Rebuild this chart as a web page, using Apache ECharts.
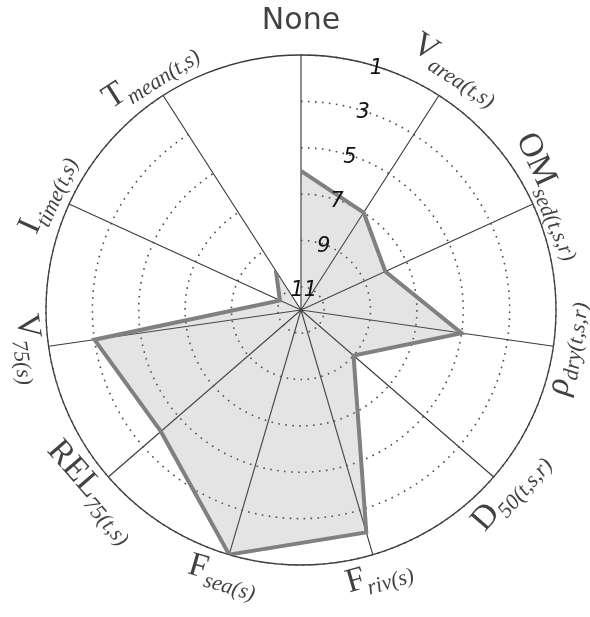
<!DOCTYPE html>
<html>
<head>
<meta charset="utf-8">
<script src="https://cdn.jsdelivr.net/npm/echarts@6/dist/echarts.min.js"></script>
<style>
html,body{margin:0;padding:0;background:#fff;}
#chart{width:590px;height:617px;}
</style>
</head>
<body>
<div id="chart"></div>
<script>
// ---- data ----
const categories = ['None','V_area','OM_sed','rho_dry','D_50','F_riv','F_sea','REL_75','V_75','I_time','T_mean'];
const labelMain = ['None','V','OM','ρ','D','F','F','REL','V','I','T'];
const labelSub = ['', 'area(t,s)', 'sed(t,s,r)', 'dry(t,s,r)', '50(t,s,r)', 'riv(s)', 'sea(s)', '75(t,s)', '75(s)', 'time(t,s)', 'mean(t,s)'];
const ranks = [6, 7, 8, 5, 9, 2, 1, 4, 3, 11, 10];
const rankTicks = [1, 3, 5, 7, 9, 11];
const rankMin = 1, rankMax = 12;

// ---- layout / style ----
const CENTER = [301, 310];
const RADIUS = 255;
// radial position (in rank units, outside the rank-1 ring) of each axis name
const LABEL_POS = [-0.45, -0.3, 0.2, 0.4, 0.0, 0.0, 0.0, 0.0, 0.1, 0.0, 0.0];

const n = categories.length;
function labelRotate(i) {
  const th = i * 360 / n;
  let cw;
  if (th > 90 && th < 270) cw = th - 180;
  else if (th >= 270) cw = th - 360;
  else cw = th;
  return -cw;
}
function richLabel(i) {
  if (!labelSub[i]) return '{n|' + labelMain[i] + '}';
  const mainStyle = labelMain[i] === 'ρ' ? 'g' : 'm';
  return '{' + mainStyle + '|' + labelMain[i] + '}{s|' + labelSub[i] + '}';
}

const polyData = ranks.map((r, i) => [r, categories[i]]);
polyData.push([ranks[0], categories[0]]);

const labelData = categories.map((c, i) => ({
  value: [LABEL_POS[i], c],
  label: { rotate: labelRotate(i), formatter: richLabel(i) }
}));

const chart = echarts.init(document.getElementById('chart'), null, { renderer: 'canvas' });
chart.setOption({
  backgroundColor: '#ffffff',
  animation: false,
  polar: [
    { center: CENTER, radius: RADIUS },
    { center: CENTER, radius: RADIUS }
  ],
  angleAxis: [
    {
      polarIndex: 0,
      type: 'category',
      data: categories,
      boundaryGap: false,
      startAngle: 90,
      clockwise: true,
      axisLine: { show: false },
      axisTick: { show: false },
      axisLabel: { show: false },
      splitLine: { show: true, lineStyle: { color: '#3c3c3c', width: 1.15 } }
    },
    {
      polarIndex: 1,
      type: 'value',
      min: 0, max: 360,
      startAngle: 73.5,
      axisLine: { show: true, lineStyle: { color: '#3a3a3a', width: 1.3 } },
      axisTick: { show: false },
      axisLabel: { show: false },
      splitLine: { show: false }
    }
  ],
  radiusAxis: [
    {
      polarIndex: 0,
      type: 'value',
      min: rankMin, max: rankMax,
      inverse: true,
      axisLine: { show: false },
      axisTick: { show: false, customValues: rankTicks },
      axisLabel: { show: false, customValues: rankTicks },
      splitLine: { show: true, lineStyle: { color: '#4a4a4a', width: 1.6, type: [1.6, 5.4] } },
      z: 1
    },
    {
      polarIndex: 1,
      type: 'value',
      min: rankMin, max: rankMax,
      inverse: true,
      axisLine: { show: false },
      axisTick: { show: false, customValues: rankTicks },
      axisLabel: {
        show: true,
        customValues: rankTicks,
        margin: -10,
        color: '#111',
        fontFamily: 'DejaVu Sans',
        fontStyle: 'italic',
        fontSize: 21
      },
      splitLine: { show: false },
      z: 5
    }
  ],
  series: [
    {
      type: 'line',
      coordinateSystem: 'polar',
      polarIndex: 0,
      data: polyData,
      symbol: 'none',
      lineStyle: { color: '#808080', width: 4, join: 'miter' },
      areaStyle: { color: 'rgba(128,128,128,0.3)', origin: 'end' },
      z: 2
    },
    {
      type: 'scatter',
      coordinateSystem: 'polar',
      polarIndex: 0,
      clip: false,
      symbol: 'circle',
      symbolSize: 0,
      itemStyle: { color: 'rgba(0,0,0,0)' },
      data: labelData,
      label: {
        show: true,
        position: 'inside',
        color: '#111',
        rich: {
          n: { fontFamily: 'DejaVu Sans', fontSize: 30, color: '#111' },
          m: { fontFamily: 'Liberation Serif', fontSize: 34, color: '#111', verticalAlign: 'top' },
          g: { fontFamily: 'Liberation Serif', fontStyle: 'italic', fontSize: 34, color: '#111', verticalAlign: 'top' },
          s: { fontFamily: 'Liberation Serif', fontStyle: 'italic', fontSize: 22, color: '#111', verticalAlign: 'top', padding: [17, 0, 0, 0] }
        }
      },
      z: 10
    }
  ]
});
</script>
</body>
</html>
